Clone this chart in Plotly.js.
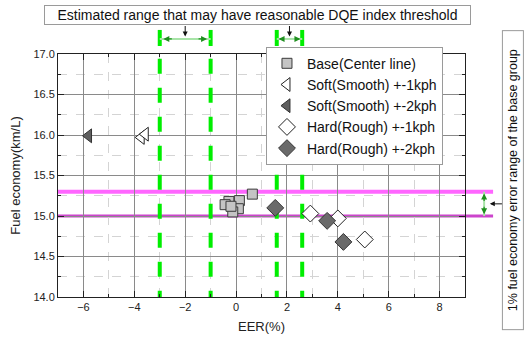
<!DOCTYPE html>
<html>
<head>
<meta charset="utf-8">
<script src="https://cdn.plot.ly/plotly-3.0.1.min.js"></script>
<style>
  html, body { margin: 0; padding: 0; background: #ffffff; }
  #chart { width: 524px; height: 338px; }
</style>
</head>
<body>
<div id="chart"></div>
<script>
// Measured points: EER (%) vs fuel economy (km/L)
const baseEER = [0.64, -0.28, 0.13, -0.43, 0.09, -0.13, -0.20];
const baseFE  = [15.27, 15.18, 15.19, 15.14, 15.09, 15.05, 15.12];

const soft1EER = [-3.73, -3.57];
const soft1FE  = [15.97, 16.01];

const soft2EER = [-5.80];
const soft2FE  = [15.99];

const hard1EER = [2.92, 4.00, 5.06];
const hard1FE  = [15.03, 14.97, 14.71];

const hard2EER = [1.54, 3.58, 4.22];
const hard2FE  = [15.10, 14.94, 14.68];

// Candidate DQE threshold ranges (EER %), as two [low, high] pairs
const thresholdRanges = [[-3.0, -1.0], [1.6, 2.6]];
// 1% fuel economy error band of the base group (km/L)
const baseBand = [15.0, 15.3];

const seriesNames = [
  'Base(Center line)',
  'Soft(Smooth) +-1kph',
  'Soft(Smooth) +-2kph',
  'Hard(Rough) +-1kph',
  'Hard(Rough) +-2kph'
];

const FONT = 'Arial, "Liberation Sans", sans-serif';
const GREEN = '#00ee00';
const LIGHT_GREEN = '#a8e4a8';
const DARK_GREEN = '#1f8f1f';
const BAND_COLORS = ['#cc44cc', '#ff66ff'];
const BAND_WIDTHS = [3, 4];

const traces = [
  { x: baseEER, y: baseFE, name: seriesNames[0], type: 'scatter', mode: 'markers',
    marker: { symbol: 'square', size: 10, color: '#c4c4c4', line: { color: '#3a3a3a', width: 1 } } },
  { x: soft1EER, y: soft1FE, name: seriesNames[1], type: 'scatter', mode: 'markers',
    marker: { symbol: 'triangle-left', size: 12, color: '#ffffff', line: { color: '#222222', width: 1 } } },
  { x: soft2EER, y: soft2FE, name: seriesNames[2], type: 'scatter', mode: 'markers',
    marker: { symbol: 'triangle-left', size: 12, color: '#5e5e5e', line: { color: '#333333', width: 1 } } },
  { x: hard1EER, y: hard1FE, name: seriesNames[3], type: 'scatter', mode: 'markers',
    marker: { symbol: 'diamond', size: 13, color: '#ffffff', line: { color: '#222222', width: 1 } } },
  { x: hard2EER, y: hard2FE, name: seriesNames[4], type: 'scatter', mode: 'markers',
    marker: { symbol: 'diamond', size: 13, color: '#6a6a6a', line: { color: '#333333', width: 1 } } }
];

const shapes = [];
const annotations = [];

// Threshold lines: dashed inside the plot (started a little above the top
// so the dash rhythm continues from the stub), solid stub above it
const thresholds = thresholdRanges.flat();
thresholds.forEach(t => {
  shapes.push({ type: 'line', xref: 'x', yref: 'y', x0: t, x1: t, y0: 17.3, y1: 14,
    layer: 'between', line: { color: GREEN, width: 4, dash: '15px,14px' } });
  shapes.push({ type: 'line', xref: 'x', yref: 'paper', x0: t, x1: t, y0: 1.033, y1: 1.099,
    line: { color: GREEN, width: 4 } });
});

// Range markers between each threshold pair
thresholdRanges.forEach(([lo, hi]) => {
  const span = hi - lo;
  const inset = span * 0.07;
  shapes.push({ type: 'line', xref: 'x', yref: 'paper', x0: lo, x1: hi, y0: 1.062, y1: 1.062,
    line: { color: LIGHT_GREEN, width: 2 } });
  const tail = span > 1.5 ? 10 : 6;
  annotations.push({ xref: 'x', yref: 'paper', x: lo + inset, y: 1.062, ax: tail, ay: 0,
    text: '', showarrow: true, arrowhead: 2, arrowsize: 1, arrowwidth: 1.2, arrowcolor: DARK_GREEN });
  annotations.push({ xref: 'x', yref: 'paper', x: hi - inset, y: 1.062, ax: -tail, ay: 0,
    text: '', showarrow: true, arrowhead: 2, arrowsize: 1, arrowwidth: 1.2, arrowcolor: DARK_GREEN });
  // pointer from the caption box down to the range
  annotations.push({ xref: 'x', yref: 'paper', x: (lo + hi) / 2, y: 1.072, ax: 0, ay: -12,
    text: '', showarrow: true, arrowhead: 2, arrowsize: 1, arrowwidth: 1, arrowcolor: '#111111' });
});

// Base-group 1% band, running past the right edge of the plot
baseBand.forEach((v, i) => {
  shapes.push({ type: 'line', xref: 'paper', yref: 'y', x0: 0, x1: 1.069, y0: v, y1: v,
    layer: 'below', line: { color: BAND_COLORS[i], width: BAND_WIDTHS[i] } });
});

// Vertical double arrow spanning the band
const bandMid = (baseBand[0] + baseBand[1]) / 2;
const bandInset = (baseBand[1] - baseBand[0]) * 0.07;
shapes.push({ type: 'line', xref: 'paper', yref: 'y', x0: 1.047, x1: 1.047, y0: baseBand[0], y1: baseBand[1],
  line: { color: LIGHT_GREEN, width: 2 } });
annotations.push({ xref: 'paper', yref: 'y', x: 1.047, y: baseBand[1] - bandInset, ax: 0, ay: 9,
  text: '', showarrow: true, arrowhead: 2, arrowsize: 1, arrowwidth: 1.2, arrowcolor: DARK_GREEN });
annotations.push({ xref: 'paper', yref: 'y', x: 1.047, y: baseBand[0] + bandInset, ax: 0, ay: -9,
  text: '', showarrow: true, arrowhead: 2, arrowsize: 1, arrowwidth: 1.2, arrowcolor: DARK_GREEN });
annotations.push({ xref: 'paper', yref: 'y', x: 1.061, y: bandMid, ax: 14, ay: 0,
  text: '', showarrow: true, arrowhead: 2, arrowsize: 1, arrowwidth: 1, arrowcolor: '#111111' });

// Caption boxes
annotations.push({ xref: 'paper', yref: 'paper', x: 0.489, y: 1.16, xanchor: 'center', yanchor: 'middle',
  text: 'Estimated range that may have reasonable DQE index threshold', showarrow: false,
  font: { family: FONT, size: 14, color: '#111111' }, width: 423, height: 16,
  bgcolor: '#ffffff', bordercolor: '#9a9a9a', borderwidth: 1, borderpad: 1 });
annotations.push({ xref: 'paper', yref: 'paper', x: 1.118, y: 0.481, xanchor: 'center', yanchor: 'middle',
  text: '1% fuel economy error range of the base group', showarrow: false, textangle: -90,
  font: { family: FONT, size: 12.5, color: '#111111' }, width: 296, height: 18,
  bgcolor: '#ffffff', bordercolor: '#9a9a9a', borderwidth: 1, borderpad: 1 });

const axisCommon = {
  showline: true, linecolor: '#222222', linewidth: 1, mirror: 'allticks',
  ticks: 'inside', ticklen: 6, tickcolor: '#222222', tickwidth: 1,
  showgrid: true, gridcolor: '#8a8a8a', gridwidth: 1,
  zeroline: false,
  tickfont: { family: FONT, size: 11, color: '#222222' },
  minor: { ticks: 'inside', ticklen: 3, tickcolor: '#222222', showgrid: true,
           gridcolor: '#d4d4d4', griddash: 'dash', gridwidth: 1 }
};

const layout = {
  width: 524, height: 338,
  margin: { l: 58, r: 59, t: 54, b: 41 },
  paper_bgcolor: '#ffffff', plot_bgcolor: '#ffffff',
  font: { family: FONT, color: '#222222' },
  xaxis: Object.assign({}, axisCommon, {
    range: [-7, 9], dtick: 2, tick0: 0,
    minor: Object.assign({}, axisCommon.minor, { dtick: 1 }),
    title: { text: 'EER(%)', font: { family: FONT, size: 13, color: '#222222' }, standoff: 9 }
  }),
  yaxis: Object.assign({}, axisCommon, {
    range: [14, 17], dtick: 0.5, tick0: 14, tickformat: '.1f',
    minor: Object.assign({}, axisCommon.minor, { dtick: 0.25 }),
    title: { text: 'Fuel economy(km/L)', font: { family: FONT, size: 13, color: '#222222' }, standoff: 9 }
  }),
  legend: {
    x: 0.511, y: 1.03, xanchor: 'left', yanchor: 'top',
    bgcolor: '#ffffff', bordercolor: '#9a9a9a', borderwidth: 1,
    font: { family: FONT, size: 14, color: '#111111' },
    itemwidth: 30, tracegroupgap: 0
  },
  showlegend: true,
  shapes: shapes,
  annotations: annotations
};

Plotly.newPlot('chart', traces, layout, { displayModeBar: false, staticPlot: true });
</script>
</body>
</html>
